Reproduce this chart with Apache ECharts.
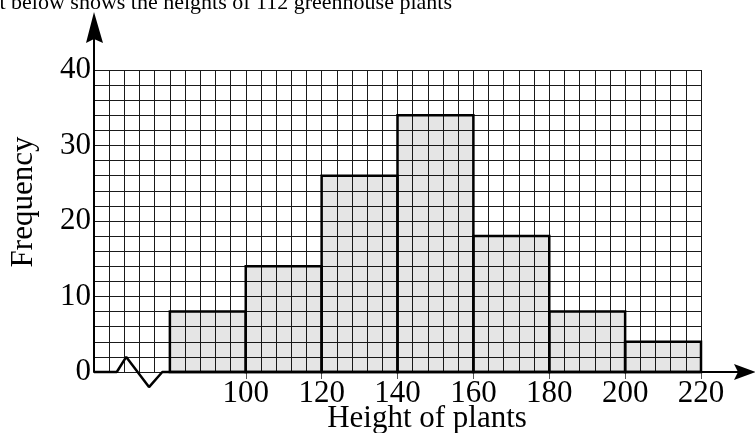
<!DOCTYPE html>
<html>
<head>
<meta charset="utf-8">
<script src="https://cdn.jsdelivr.net/npm/echarts@6/dist/echarts.min.js"></script>
<style>html,body{margin:0;padding:0;background:#fff;}#c{width:755px;height:433px;}</style>
</head>
<body>
<div id="c"></div>
<script>
// Data
var binStarts = [80, 100, 120, 140, 160, 180, 200];
var binEnds = [100, 120, 140, 160, 180, 200, 220];
var frequencies = [8, 14, 26, 34, 18, 8, 4];
var xTickLabels = [100, 120, 140, 160, 180, 200, 220];
var yTickLabels = [0, 10, 20, 30, 40];
var breakX = [60, 66, 68.5, 74.5, 78, 80, 220];
var breakY = [0, 0, 2, -2, 0, 0, 0];

var FONT = '"Liberation Serif", "Times New Roman", serif';
var chart = echarts.init(document.getElementById('c'), null, {renderer: 'canvas'});

var bars = binStarts.map(function (s, i) { return [s, binEnds[i], frequencies[i]]; });
var breakLine = breakX.map(function (x, i) { return [x, breakY[i]]; });

var gridLine = {show: true, lineStyle: {color: '#1a1a1a', width: 1}};

var option = {
  animation: false,
  backgroundColor: '#fff',
  grid: {left: 94, right: 54, top: 70, bottom: 61, containLabel: false},
  xAxis: [
    {
      type: 'value', min: 60, max: 220, interval: 4,
      axisLine: {show: false},
      axisTick: {show: true, customValues: xTickLabels, length: 7, lineStyle: {color: '#555', width: 1}},
      axisLabel: {show: true, customValues: xTickLabels, color: '#000', fontFamily: FONT, fontSize: 31, margin: 6},
      splitLine: {show: false}
    },
    {
      type: 'value', min: 60, max: 220, interval: 4, position: 'bottom',
      axisLine: {show: false}, axisTick: {show: false}, axisLabel: {show: false},
      splitLine: gridLine
    }
  ],
  yAxis: {
    type: 'value', min: 0, max: 40, interval: 2,
    axisLine: {show: true, lineStyle: {color: '#000', width: 2}},
    axisTick: {show: false},
    axisLabel: {show: true, customValues: yTickLabels, color: '#000', fontFamily: FONT, fontSize: 31, margin: 3},
    splitLine: gridLine
  },
  series: [
    {
      type: 'custom',
      data: bars,
      z: 3,
      renderItem: function (params, api) {
        var p0 = api.coord([api.value(0), api.value(2)]);
        var p1 = api.coord([api.value(1), 0]);
        return {
          type: 'rect',
          shape: {x: p0[0], y: p0[1], width: p1[0] - p0[0], height: p1[1] - p0[1]},
          style: {fill: 'rgba(0,0,0,0.1)', stroke: '#000', lineWidth: 2.5}
        };
      }
    },
    {
      type: 'line',
      data: breakLine,
      clip: false,
      symbol: 'none',
      z: 4,
      lineStyle: {color: '#000', width: 2.5},
      silent: true
    }
  ]
};
chart.setOption(option);

var yTop = chart.convertToPixel({xAxisIndex: 0, yAxisIndex: 0}, [60, 40]);
var xEnd = chart.convertToPixel({xAxisIndex: 0, yAxisIndex: 0}, [220, 0]);
var ax = yTop[0];
var ay = xEnd[1];

chart.setOption({
  graphic: [
    {type: 'line', shape: {x1: ax, y1: yTop[1], x2: ax, y2: 30}, style: {stroke: '#000', lineWidth: 2}, z: 10},
    {type: 'polygon', shape: {points: [[ax, 12], [ax - 8, 43], [ax, 39], [ax + 9, 43]]}, style: {fill: '#000'}, z: 10},
    {type: 'line', shape: {x1: xEnd[0], y1: ay, x2: 740, y2: ay}, style: {stroke: '#000', lineWidth: 2}, z: 10},
    {type: 'polygon', shape: {points: [[756, ay], [734, ay - 8], [738, ay], [734, ay + 8]]}, style: {fill: '#000'}, z: 10},
    {type: 'text', x: 452, y: 3, style: {text: 'The bar chart below shows the heights of 112 greenhouse plants', font: '22px ' + FONT, fill: '#000', textAlign: 'right', textVerticalAlign: 'middle'}, z: 10},
    {type: 'text', x: 427, y: 419, style: {text: 'Height of plants', font: '31px ' + FONT, fill: '#000', textAlign: 'center', textVerticalAlign: 'middle'}, z: 10},
    {type: 'text', x: 24, y: 202, rotation: Math.PI / 2, style: {text: 'Frequency', font: '31px ' + FONT, fill: '#000', textAlign: 'center', textVerticalAlign: 'middle'}, z: 10}
  ]
});
</script>
</body>
</html>
